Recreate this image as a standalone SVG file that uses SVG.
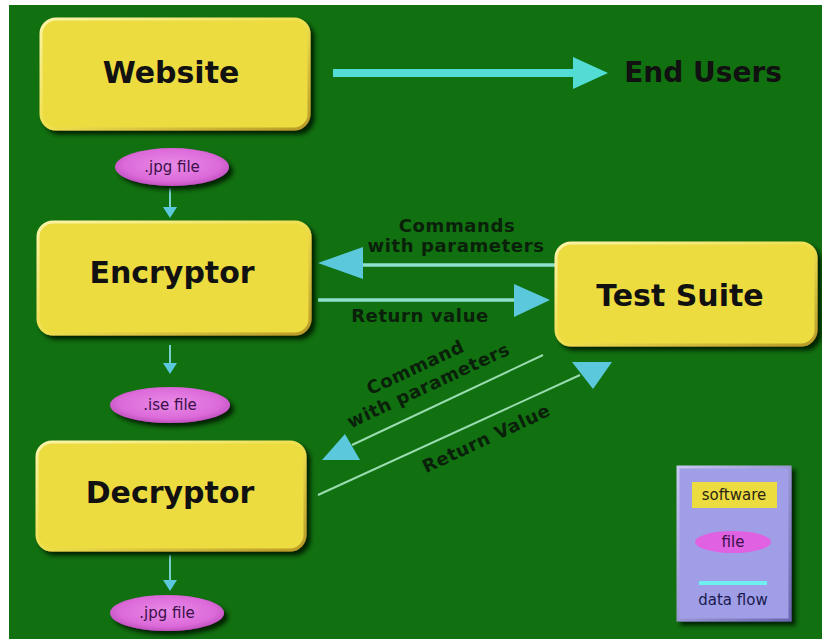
<svg xmlns="http://www.w3.org/2000/svg" width="822" height="639" viewBox="0 0 822 639">
<defs>
  <filter id="sh" x="-10%" y="-10%" width="130%" height="140%">
    <feDropShadow dx="4" dy="4" stdDeviation="2.2" flood-color="#061a04" flood-opacity="0.95"/>
  </filter>
  <linearGradient id="boxStroke" x1="0" y1="0" x2="1" y2="1">
    <stop offset="0" stop-color="#fbf4a8"/>
    <stop offset="0.5" stop-color="#efe050"/>
    <stop offset="1" stop-color="#b89a28"/>
  </linearGradient>
  <radialGradient id="ellFill" cx="0.5" cy="0.45" r="0.6">
    <stop offset="0" stop-color="#e98ae8"/>
    <stop offset="0.7" stop-color="#dc6ad9"/>
    <stop offset="1" stop-color="#b848b8"/>
  </radialGradient>
  <linearGradient id="legStroke" x1="0" y1="0" x2="1" y2="1">
    <stop offset="0" stop-color="#c8c8f4"/>
    <stop offset="1" stop-color="#6a66b0"/>
  </linearGradient>
</defs>
<style>
  .box { fill: #ecdc40; stroke: url(#boxStroke); stroke-width: 3; filter: url(#sh); }
  .ell { fill: url(#ellFill); filter: url(#sh); }
  .title { font-family: "DejaVu Sans", Verdana, sans-serif; font-weight: bold; font-size: 30px; fill: #111; text-anchor: middle; }
  .lbl { font-family: "DejaVu Sans", Verdana, sans-serif; font-weight: bold; font-size: 18px; letter-spacing: 0.6px; fill: #0a200a; text-anchor: middle; }
  .ftxt { font-family: "DejaVu Sans", Verdana, sans-serif; font-size: 15px; fill: #3a1048; text-anchor: middle; }
  .leg { font-family: "DejaVu Sans", Verdana, sans-serif; font-size: 15px; text-anchor: middle; }
  .thick { stroke: #52dcd4; stroke-width: 8; fill: none; }
  .mid { stroke: #8fe0cc; stroke-width: 3.5; fill: none; }
  .thin { stroke: #9adcb0; stroke-width: 2; fill: none; }
  .small { stroke: #78d0cc; stroke-width: 2; fill: none; }
  .head { fill: #5cc8dc; }
  .headT { fill: #52dcd4; }
</style>
<rect x="0" y="0" width="822" height="639" fill="#ffffff"/>
<rect x="9" y="5" width="813" height="634" fill="#117010"/>

<g id="connectors">
  <!-- Website to End Users -->
  <line class="thick" x1="333" y1="73" x2="578" y2="73"/>
  <polygon class="headT" points="573,57 608,73 573,89"/>
  <!-- .jpg to Encryptor -->
  <line class="small" x1="170" y1="188" x2="170" y2="208"/>
  <polygon class="head" points="163,207 177,207 170,218"/>
  <!-- Test Suite to Encryptor: commands -->
  <line class="mid" x1="555" y1="265" x2="355" y2="265"/>
  <polygon class="head" points="318,263 363,247 363,279"/>
  <!-- Encryptor to Test Suite: return value -->
  <line class="mid" x1="318" y1="300" x2="520" y2="300"/>
  <polygon class="head" points="550,300 514,284 514,317"/>
  <!-- Encryptor to .ise -->
  <line class="small" x1="170" y1="345" x2="170" y2="364"/>
  <polygon class="head" points="163,363 177,363 170,374"/>
  <!-- Test Suite to Decryptor: command -->
  <line class="thin" x1="543" y1="355" x2="352" y2="445"/>
  <polygon class="head" points="345,434 322,460 360,460"/>
  <!-- Decryptor to Test Suite: return value -->
  <line class="thin" x1="318" y1="495" x2="580" y2="375"/>
  <polygon class="head" points="572,362 612,362 593,389"/>
  <!-- Decryptor to .jpg -->
  <line class="small" x1="170" y1="555" x2="170" y2="581"/>
  <polygon class="head" points="163,580 177,580 170,591"/>
  <!-- labels -->
  <text class="lbl" x="457" y="232">Commands</text>
  <text class="lbl" x="456" y="252">with parameters</text>
  <text class="lbl" x="420" y="322">Return value</text>
  <g transform="translate(418,373) rotate(-25)"><text class="lbl" x="0" y="0">Command</text></g>
  <g transform="translate(431,391) rotate(-25)"><text class="lbl" x="0" y="0">with parameters</text></g>
  <g transform="translate(489,444) rotate(-25)"><text class="lbl" x="0" y="0">Return Value</text></g>
</g>

<g id="website">
  <rect class="box" x="41" y="19" width="268" height="110" rx="15"/>
  <text class="title" x="171" y="83">Website</text>
</g>
<g id="end-users">
  <text class="title" x="703" y="82" style="font-size:28px">End Users</text>
</g>
<g id="jpg-file-1">
  <ellipse class="ell" cx="172" cy="167" rx="57" ry="19"/>
  <text class="ftxt" x="172" y="172">.jpg file</text>
</g>
<g id="encryptor">
  <rect class="box" x="38" y="222" width="272" height="112" rx="15"/>
  <text class="title" x="172" y="283">Encryptor</text>
</g>
<g id="test-suite">
  <rect class="box" x="556" y="243" width="260" height="102" rx="15"/>
  <text class="title" x="680" y="306">Test Suite</text>
</g>
<g id="ise-file">
  <ellipse class="ell" cx="170" cy="405" rx="60" ry="18"/>
  <text class="ftxt" x="170" y="410">.ise file</text>
</g>
<g id="decryptor">
  <rect class="box" x="37" y="442" width="268" height="108" rx="15"/>
  <text class="title" x="170" y="503">Decryptor</text>
</g>
<g id="jpg-file-2">
  <ellipse class="ell" cx="167" cy="613" rx="57" ry="18"/>
  <text class="ftxt" x="167" y="618">.jpg file</text>
</g>
<g id="legend">
  <rect x="678" y="467" width="112" height="153" fill="#a09ee6" stroke="url(#legStroke)" stroke-width="3" filter="url(#sh)"/>
  <rect x="692" y="482" width="85" height="26" fill="#ecdc40"/>
  <text class="leg" x="734" y="500" fill="#2a2410">software</text>
  <ellipse cx="733" cy="542" rx="38" ry="11" fill="#e062e2"/>
  <text class="leg" x="733" y="547" fill="#3a1048">file</text>
  <line x1="699" y1="583" x2="767" y2="583" stroke="#6ef0f0" stroke-width="4"/>
  <text class="leg" x="733" y="605" fill="#1a1a50">data flow</text>
</g>
</svg>
